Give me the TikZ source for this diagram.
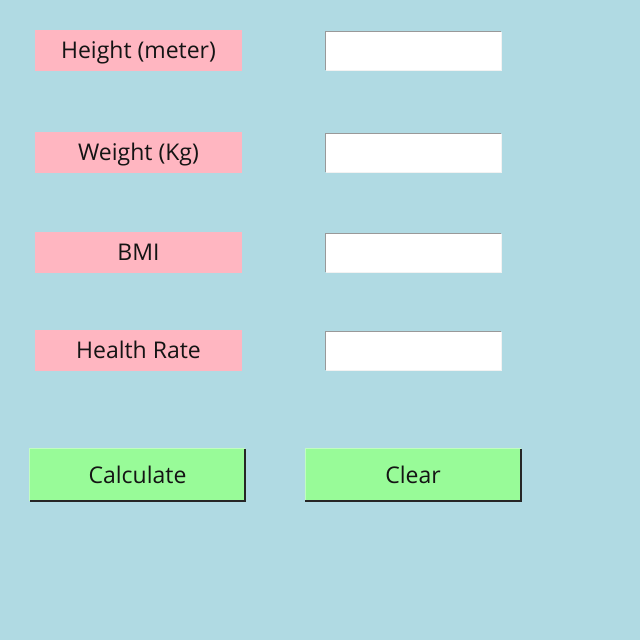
\documentclass[tikz,border=0pt]{standalone}
\usepackage{fontspec}
\setmainfont{Open Sans}
\definecolor{bgblue}{RGB}{176,218,227}
\definecolor{lblpink}{RGB}{255,182,193}
\definecolor{btngreen}{RGB}{152,251,152}
\tikzset{
  lbl/.style={fill=lblpink, minimum width=207pt, minimum height=41pt, inner sep=0pt,
    font=\fontsize{23}{27}\selectfont, text=black!92, text height=16.5pt, text depth=0pt},
  entrybox/.style={fill=white, minimum width=175pt, minimum height=38pt, inner sep=0pt},
  btn/.style={fill=btngreen, minimum width=215pt, minimum height=52pt, inner sep=0pt,
    font=\fontsize{23}{27}\selectfont, text=black!92, text height=16.5pt, text depth=0pt},
}
\begin{document}
\begin{tikzpicture}[x=1pt,y=-1pt]
  \fill[bgblue] (0,0) rectangle (640,640);
  % labels
  \node[lbl] (hgt) at (138.5,50.5) {Height (meter)};
  \node[lbl] (wgt) at (138.5,152.5) {Weight (Kg)};
  \node[lbl] (bmi) at (138.5,252.5) {BMI};
  \node[lbl] (rate) at (138.5,350.5) {Health Rate};
  % entries
  \node[entrybox] (hgtin) at (413.5,51) {};
  \node[entrybox] (wgtin) at (413.5,153) {};
  \node[entrybox] (bmiin) at (413.5,253) {};
  \node[entrybox] (ratein) at (413.5,351) {};
  \foreach \e in {hgtin,wgtin,bmiin,ratein} {
    \draw[gray!80, line width=1.2pt] (\e.south west) -- (\e.north west) -- (\e.north east);
    \draw[white!90!gray, line width=1pt] (\e.south west) -- (\e.south east) -- (\e.north east);
  }
  % buttons
  \node[btn] (calc) at (137.5,475) {Calculate};
  \node[btn] (clr) at (413,475) {Clear};
  \foreach \b in {calc,clr} {
    \draw[btngreen!60!white, line width=1pt] (\b.south west) -- (\b.north west) -- (\b.north east);
    \draw[black!85, line width=1.8pt] (\b.south west) -- (\b.south east) -- (\b.north east);
  }
\end{tikzpicture}
\end{document}
